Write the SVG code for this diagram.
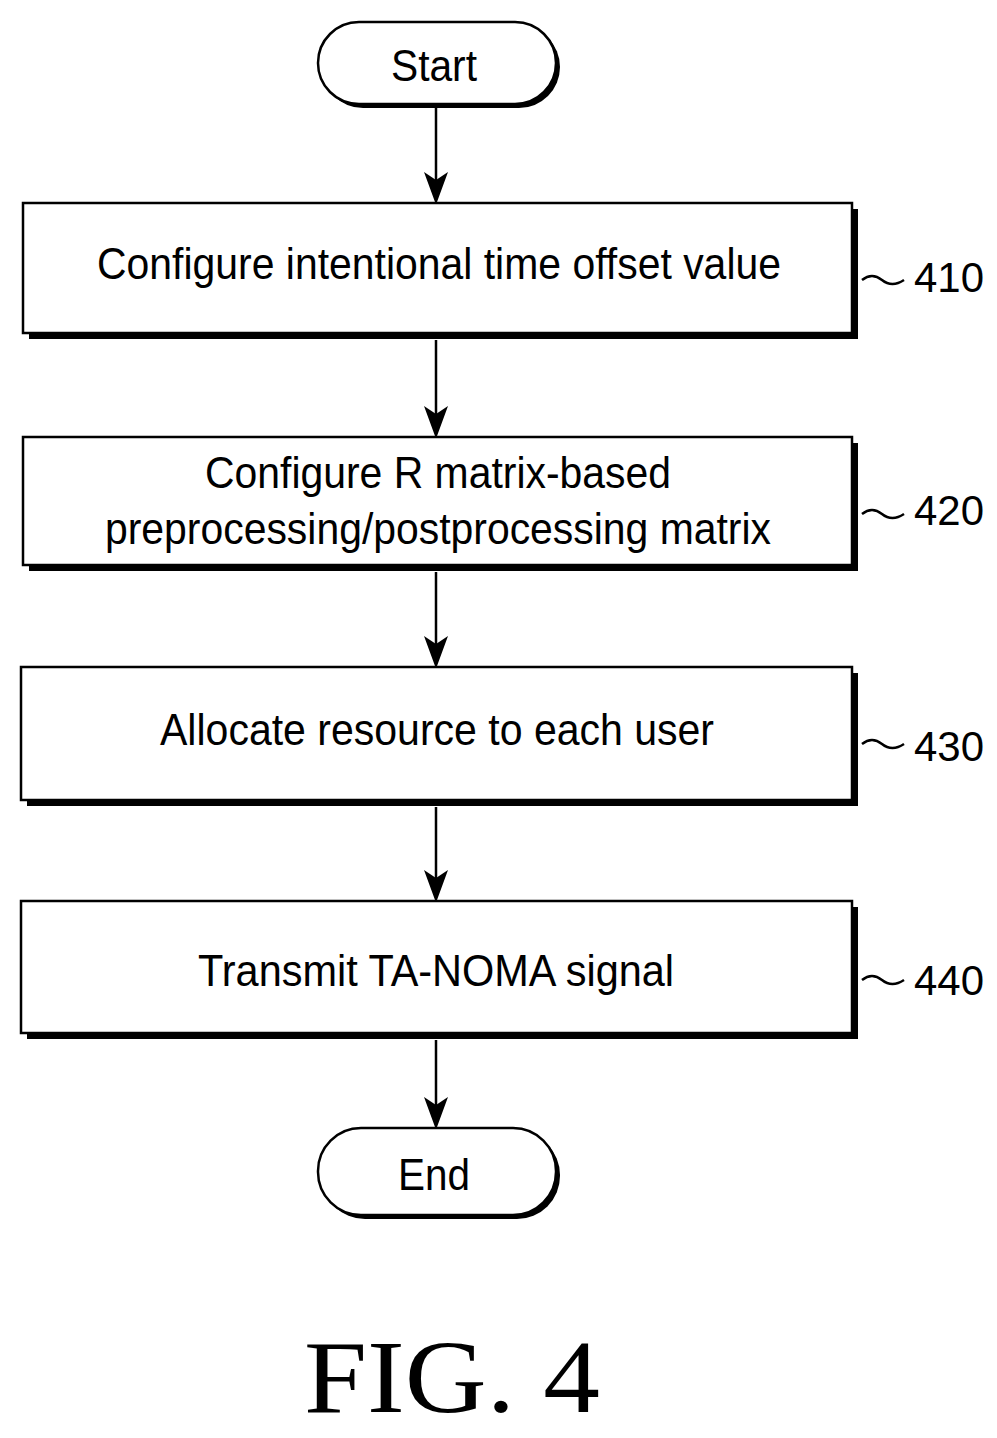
<svg xmlns="http://www.w3.org/2000/svg" width="997" height="1438" viewBox="0 0 997 1438">
<defs>
<style>
.box{fill:#fff;stroke:#000;stroke-width:2.5}
.sh{fill:#000}
.t{font-family:"Liberation Sans",Arial,sans-serif;font-size:44px;fill:#000;text-anchor:middle}
.n{font-family:"Liberation Sans",Arial,sans-serif;font-size:42px;fill:#000}
.c{fill:none;stroke:#000;stroke-width:2.5}
.h{fill:#000}
</style>
</defs>
<rect width="997" height="1438" fill="#fff"/>
<g id="connectors">
<line class="c" x1="436" y1="108" x2="436" y2="195"/>
<path class="h" d="M424,172 L436,180 L448,172 L437,202 L435,202 Z"/>
<line class="c" x1="436" y1="340" x2="436" y2="430"/>
<path class="h" d="M424,406 L436,414 L448,406 L437,436 L435,436 Z"/>
<line class="c" x1="436" y1="572" x2="436" y2="660"/>
<path class="h" d="M424,636 L436,644 L448,636 L437,666 L435,666 Z"/>
<line class="c" x1="436" y1="807" x2="436" y2="894"/>
<path class="h" d="M424,870 L436,878 L448,870 L437,900 L435,900 Z"/>
<line class="c" x1="436" y1="1040" x2="436" y2="1121"/>
<path class="h" d="M424,1097 L436,1105 L448,1097 L437,1127 L435,1127 Z"/>
<path class="c" d="M862,280 q10,-8 20,0 t22,0"/>
<path class="c" d="M862,514 q10,-8 20,0 t22,0"/>
<path class="c" d="M862,744 q10,-8 20,0 t22,0"/>
<path class="c" d="M862,980 q10,-8 20,0 t22,0"/>
</g>
<g id="start">
<rect class="sh" x="322" y="26" width="238" height="82" rx="41"/>
<rect class="box" x="318" y="22" width="238" height="82" rx="41"/>
<text class="t" x="434" y="81" textLength="86" lengthAdjust="spacingAndGlyphs">Start</text>
</g>
<g id="n410">
<rect class="sh" x="29" y="209" width="829" height="130"/>
<rect class="box" x="23" y="203" width="829" height="130"/>
<text class="t" x="439" y="279" textLength="684" lengthAdjust="spacingAndGlyphs">Configure intentional time offset value</text>
<text class="n" x="914" y="292" textLength="70" lengthAdjust="spacingAndGlyphs">410</text>
</g>
<g id="n420">
<rect class="sh" x="29" y="443" width="829" height="128"/>
<rect class="box" x="23" y="437" width="829" height="128"/>
<text class="t" x="438" y="488" textLength="466" lengthAdjust="spacingAndGlyphs">Configure R matrix-based</text>
<text class="t" x="438" y="544" textLength="666" lengthAdjust="spacingAndGlyphs">preprocessing/postprocessing matrix</text>
<text class="n" x="914" y="525" textLength="70" lengthAdjust="spacingAndGlyphs">420</text>
</g>
<g id="n430">
<rect class="sh" x="27" y="673" width="831" height="133"/>
<rect class="box" x="21" y="667" width="831" height="133"/>
<text class="t" x="437" y="745" textLength="554" lengthAdjust="spacingAndGlyphs">Allocate resource to each user</text>
<text class="n" x="914" y="761" textLength="70" lengthAdjust="spacingAndGlyphs">430</text>
</g>
<g id="n440">
<rect class="sh" x="27" y="907" width="831" height="132"/>
<rect class="box" x="21" y="901" width="831" height="132"/>
<text class="t" x="436" y="986" textLength="476" lengthAdjust="spacingAndGlyphs">Transmit TA-NOMA signal</text>
<text class="n" x="914" y="995" textLength="70" lengthAdjust="spacingAndGlyphs">440</text>
</g>
<g id="end">
<rect class="sh" x="322" y="1132" width="238" height="87" rx="43"/>
<rect class="box" x="318" y="1128" width="238" height="87" rx="43"/>
<text class="t" x="434" y="1190" textLength="72" lengthAdjust="spacingAndGlyphs">End</text>
</g>
<text x="452" y="1412" font-family="Liberation Serif,serif" font-size="104" text-anchor="middle" textLength="296" lengthAdjust="spacingAndGlyphs">FIG. 4</text>
</svg>
